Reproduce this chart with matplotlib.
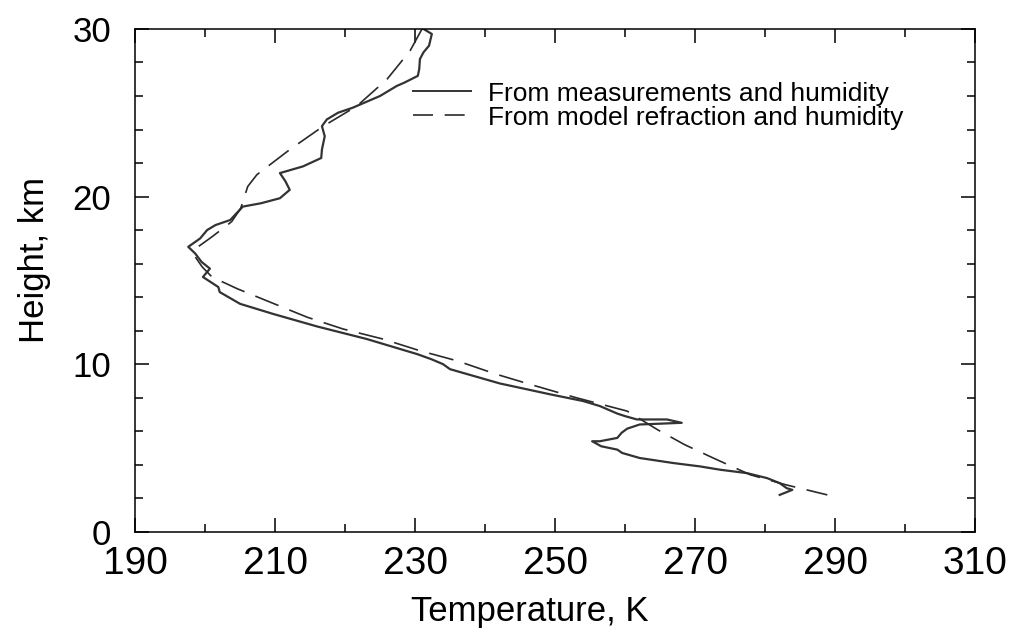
import matplotlib
matplotlib.use("Agg")
import matplotlib.pyplot as plt
from matplotlib.ticker import MultipleLocator
from matplotlib.lines import Line2D

plt.rcParams["font.family"] = ["Liberation Sans", "DejaVu Sans"]

# 实测温度廓线 (K, km)
meas_temp = [231.2, 232.4, 232.0, 231.2, 230.7, 230.6, 230.4, 228.5, 227.4, 225.0,
             221.1, 219.0, 217.4, 216.7, 217.1, 216.7, 216.6, 214.0, 210.7, 211.5,
             212.1, 210.7, 208.0, 205.4, 203.6, 201.5, 200.3, 199.3, 197.6, 198.6,
             199.5, 200.7, 199.7, 201.9, 202.1, 205.0, 209.7, 216.0, 223.1, 227.9,
             230.3, 232.3, 234.0, 235.0, 242.1, 249.3, 254.0, 256.4, 258.9, 260.0,
             261.7, 266.0, 268.1, 262.1, 260.3, 259.5, 258.9, 256.4, 255.3, 256.6,
             258.9, 259.6, 262.1, 266.9, 270.7, 273.6, 277.4, 280.3, 282.1, 283.1,
             283.9, 282.1]
meas_height = [30.0, 29.7, 29.0, 28.6, 28.2, 27.6, 27.2, 26.8, 26.6, 26.0,
               25.3, 25.0, 24.6, 24.2, 23.6, 22.8, 22.3, 21.8, 21.4, 20.9,
               20.4, 19.9, 19.6, 19.4, 18.6, 18.3, 18.0, 17.5, 17.0, 16.6,
               16.1, 15.7, 15.2, 14.6, 14.3, 13.6, 13.0, 12.25, 11.5, 10.9,
               10.6, 10.3, 10.0, 9.7, 8.85, 8.2, 7.8, 7.5, 7.05, 6.9,
               6.7, 6.7, 6.5, 6.4, 6.15, 5.9, 5.6, 5.4, 5.4, 5.1,
               4.9, 4.7, 4.4, 4.1, 3.9, 3.7, 3.5, 3.2, 2.9, 2.6,
               2.5, 2.2]

# 模式折射率反演廓线
model_temp = [231.0, 229.3, 226.0, 221.7, 216.9, 212.1, 207.4, 206.1, 205.1, 203.8,
              201.0, 199.0, 198.6, 199.6, 201.0, 204.6, 209.3, 214.6, 219.7, 225.4,
              230.7, 236.0, 241.6, 246.4, 253.0, 260.3, 264.6, 268.5, 272.6, 277.9,
              283.0, 288.9]
model_height = [30.0, 28.7, 27.0, 25.4, 24.2, 22.8, 21.3, 20.6, 19.3, 18.5,
                17.6, 17.0, 16.4, 15.8, 15.2, 14.5, 13.7, 12.8, 12.1, 11.5,
                10.8, 10.2, 9.4, 8.8, 8.0, 7.2, 6.1, 5.2, 4.4, 3.4,
                2.8, 2.2]

x_ticks = [190, 210, 230, 250, 270, 290, 310]
x_minor = [200, 220, 240, 260, 280, 300]
y_ticks = [0, 10, 20, 30]
labels = ["From measurements and humidity", "From model refraction and humidity"]

fig = plt.figure(figsize=(10.13, 6.43), dpi=100)
ax = fig.add_axes([0.1333, 0.173, 0.8292, 0.782])

ax.plot(meas_temp, meas_height, color="#333333", lw=1.6, solid_joinstyle="round")
ax.plot(model_temp, model_height, color="#2a2a2a", lw=1.2, dashes=(15, 7))

ax.set_xlim(190, 310)
ax.set_ylim(0, 30)
ax.set_xticks(x_ticks)
ax.set_xticks(x_minor, minor=True)
ax.set_yticks(y_ticks)
ax.yaxis.set_minor_locator(MultipleLocator(2))
ax.tick_params(which="both", direction="in", top=True, right=True, width=1.1)
ax.tick_params(which="major", length=10)
ax.tick_params(which="minor", length=6)
ax.tick_params(axis="x", pad=10, labelsize=28)
ax.tick_params(axis="y", pad=17, labelsize=25)
for s in ax.spines.values():
    s.set_linewidth(1.1)

ax.set_xlabel("Temperature, K", fontsize=25)
ax.xaxis.set_label_coords(0.47, -0.125)
ax.set_ylabel("Height, km", fontsize=25)
ax.yaxis.set_label_coords(-0.1, 0.54)

handles = [Line2D([], [], color="#333333", lw=1.4),
           Line2D([], [], color="#2a2a2a", lw=1.2, dashes=(12, 7))]
ax.legend(handles, labels, loc="upper left", bbox_to_anchor=(0.331, 0.895),
          frameon=False, fontsize=19, handlelength=2.2, handletextpad=0.65,
          labelspacing=0.0, borderpad=0, borderaxespad=0)

fig.savefig("out.png", dpi=100)
